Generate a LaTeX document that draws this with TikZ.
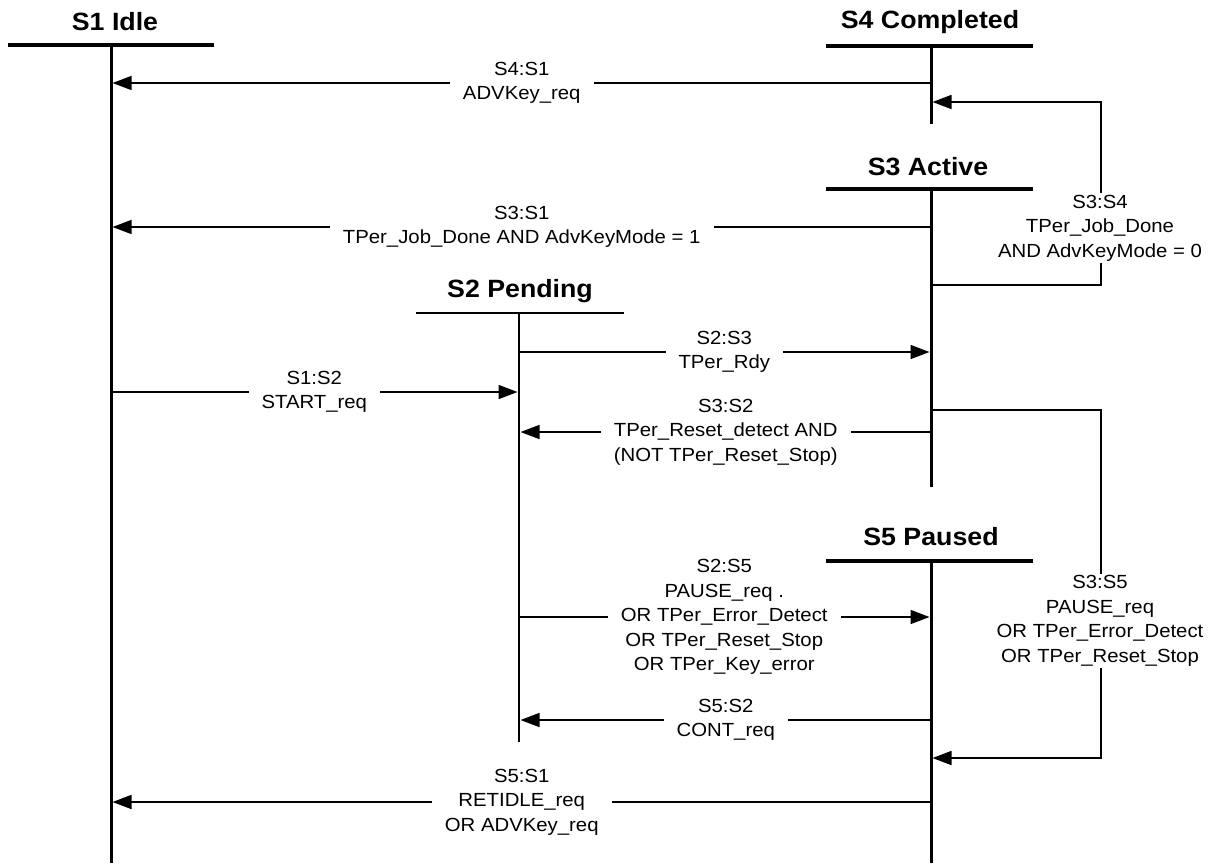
\documentclass[tikz,border=0pt]{standalone}
\usepackage{fontspec}
\setmainfont{Liberation Sans}[FakeStretch=1.07]
\usetikzlibrary{arrows.meta}
\begin{document}
\begin{tikzpicture}[x=1pt,y=-1pt,
  lbl/.style={fill=white,align=center,inner xsep=13pt,inner ysep=2pt,
    font=\fontsize{19}{24.5}\selectfont},
  ttl/.style={font=\fontsize{25}{30}\selectfont\bfseries,inner sep=0pt},
  bar/.style={line width=3.5pt},
  thinbar/.style={line width=2pt},
  life/.style={line width=3pt},
  thinlife/.style={line width=2pt},
  wire/.style={line width=1.6pt},
  msg/.style={wire,-{Triangle[length=19pt,width=14pt]}}]
\useasboundingbox (0,0) rectangle (1215,863);

% state titles
\node[ttl] (t1) at (115,22) {S1 Idle};
\node[ttl] (t4) at (930,22) {S4 Completed};
\node[ttl] (t3) at (928,167) {S3 Active};
\node[ttl] (t2) at (520,291) {S2 Pending};
\node[ttl] (t5) at (931,537) {S5 Paused};

% coordinates on lifelines
\coordinate (s1a) at (112.5,83);
\coordinate (s4a) at (931,83);
\coordinate (s3a) at (931,285);
\coordinate (k1) at (1101,285);
\coordinate (k2) at (1101,102);
\coordinate (s4b) at (932.5,102);
\coordinate (s3b) at (931,227);
\coordinate (s1b) at (112.5,227);
\coordinate (s2a) at (519,352);
\coordinate (s3c) at (929.5,352);
\coordinate (s1c) at (111,392);
\coordinate (s2b) at (517.5,392);
\coordinate (s3d) at (931,432);
\coordinate (s2c) at (520.5,432);
\coordinate (s3e) at (931,410);
\coordinate (k3) at (1101,410);
\coordinate (k4) at (1101,758);
\coordinate (s5a) at (932.5,758);
\coordinate (s2d) at (519,617);
\coordinate (s5b) at (929.5,617);
\coordinate (s5c) at (931,720);
\coordinate (s2e) at (520.5,720);
\coordinate (s5d) at (931,802);
\coordinate (s1d) at (112.5,802);

% transitions
\draw[msg] (s4a) -- node[lbl] (l41) {S4:S1\\ADVKey\_req} (s1a);
\draw[msg] (s3a) -- (k1) -- (k2) -- (s4b);
\node[lbl] (l34) at (1100,228) {S3:S4\\TPer\_Job\_Done\\AND AdvKeyMode = 0};
\draw[msg] (s3b) -- node[lbl] (l31) {S3:S1\\TPer\_Job\_Done AND AdvKeyMode = 1} (s1b);
\draw[msg] (s2a) -- node[lbl] (l23) {S2:S3\\TPer\_Rdy} (s3c);
\draw[msg] (s1c) -- node[lbl] (l12) {S1:S2\\START\_req} (s2b);
\draw[msg] (s3d) -- node[lbl] (l32) {S3:S2\\TPer\_Reset\_detect AND\\(NOT TPer\_Reset\_Stop)} (s2c);
\draw[msg] (s3e) -- (k3) -- (k4) -- (s5a);
\node[lbl] (l35) at (1100,621) {S3:S5\\PAUSE\_req\\OR TPer\_Error\_Detect\\OR TPer\_Reset\_Stop};
\draw[msg] (s2d) -- node[lbl] (l25) {S2:S5\\PAUSE\_req .\\OR TPer\_Error\_Detect\\OR TPer\_Reset\_Stop\\OR TPer\_Key\_error} (s5b);
\draw[msg] (s5c) -- node[lbl] (l52) {S5:S2\\CONT\_req} (s2e);
\draw[msg] (s5d) -- node[lbl] (l51) {S5:S1\\RETIDLE\_req\\OR ADVKey\_req} (s1d);

% state bars and lifelines
\draw[bar] (8,45) -- (214,45);
\draw[life] (111,45) -- (111,863);
\draw[bar] (826,46) -- (1033,46);
\draw[life] (931,46) -- (931,124);
\draw[bar] (826,189) -- (1033,189);
\draw[life] (931,189) -- (931,487);
\draw[thinbar] (416,313) -- (624,313);
\draw[thinlife] (519,313) -- (519,742);
\draw[bar] (826,561) -- (1033,561);
\draw[life] (931,561) -- (931,863);
\end{tikzpicture}
\end{document}
